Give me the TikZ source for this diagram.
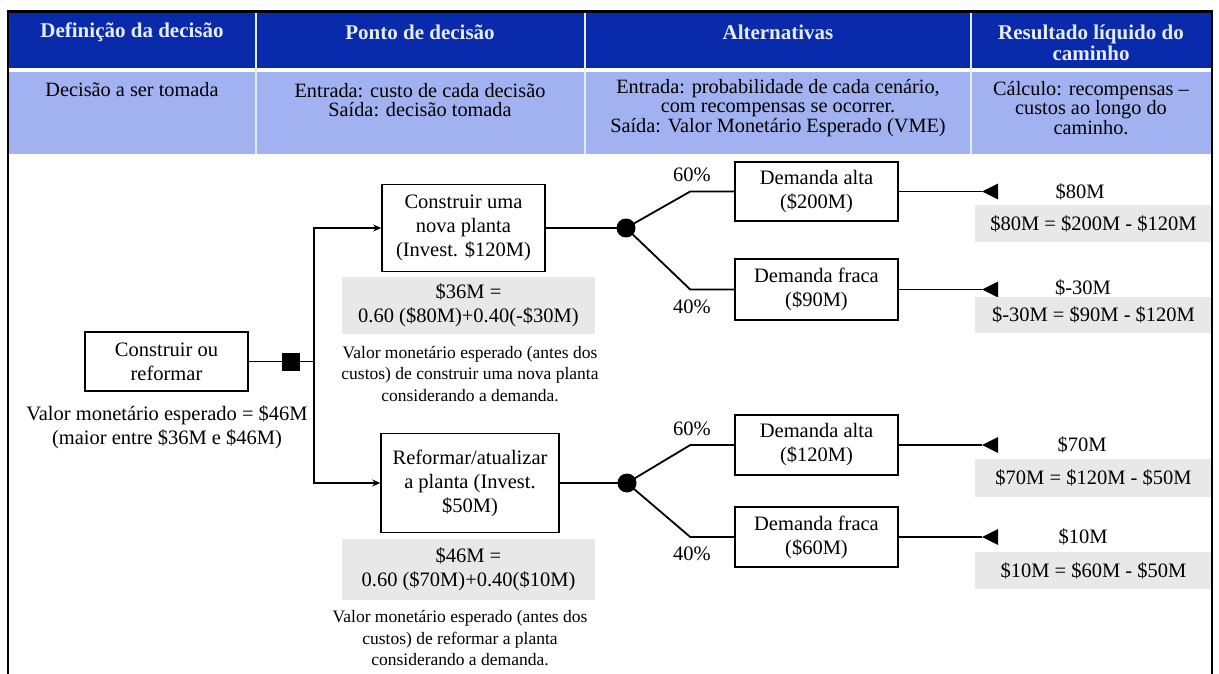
\documentclass[tikz,border=0pt]{standalone}
\usepackage{fontspec}
\setmainfont{Liberation Serif}
\usetikzlibrary{arrows.meta,calc}

\definecolor{hdrblue}{RGB}{10,42,172}
\definecolor{rowblue}{RGB}{162,177,240}
\definecolor{hdrtext}{RGB}{228,236,244}
\definecolor{calcgray}{RGB}{232,232,232}

\tikzset{
  hdr/.style={text=hdrtext, font=\fontsize{21}{21}\selectfont\bfseries, align=center, inner sep=0pt},
  rowtxt/.style={font=\fontsize{20.3}{19.5}\selectfont, align=center, inner sep=0pt},
  choicebox/.style={draw, line width=1.5pt, fill=white, align=center, inner sep=0pt, font=\fontsize{20.5}{24}\selectfont},
  calcbox/.style={fill=calcgray, align=center, inner sep=0pt, font=\fontsize{20.5}{24}\selectfont},
  notetext/.style={align=center, inner sep=0pt, font=\fontsize{17.5}{21.5}\selectfont},
  plaintext/.style={align=center, inner sep=0pt, font=\fontsize{20.5}{24.5}\selectfont},
  wire/.style={line width=1.8pt},
  feed/.style={line width=1.8pt, -{Stealth[length=8pt,width=7pt]}},
  decnode/.style={fill=black, minimum size=18pt, inner sep=0pt},
  chancenode/.style={circle, fill=black, minimum size=19pt, inner sep=0pt},
  divider/.style={draw=hdrtext, line width=1.5pt},
}

\begin{document}
\begin{tikzpicture}[x=1pt, y=-1pt]
\useasboundingbox (0,0) rectangle (1219,674);

% table heading bands
\fill[hdrblue] (9,13) rectangle (1211,68);
\fill[rowblue] (9,72) rectangle (1211,154);
\draw[divider] (256,13) -- (256,154);
\draw[divider] (585,13) -- (585,154);
\draw[divider] (971,13) -- (971,154);

\node[hdr] (h1) at (132,32) {Definição da decisão};
\node[hdr] (h2) at (420,32) {Ponto de decisão};
\node[hdr] (h3) at (778,32) {Alternativas};
\node[hdr] (h4) at (1091,42.5) {Resultado líquido do\\caminho};

\node[rowtxt] (d1) at (132,90) {Decisão a ser tomada};
\node[rowtxt] (d2) at (420,100) {Entrada: custo de cada decisão\\Saída: decisão tomada};
\node[rowtxt] (d3) at (778,108) {Entrada: probabilidade de cada cenário,\\com recompensas se ocorrer.\\Saída: Valor Monetário Esperado (VME)};
\node[rowtxt] (d4) at (1091,108) {Cálculo: recompensas --\\custos ao longo do\\caminho.};

% decision node and the two options
\node[choicebox, minimum width=163pt, minimum height=59pt] (root) at (166.5,361.5) {Construir ou\\reformar};
\node[plaintext] (rootval) at (167,427.5) {Valor monetário esperado = \$46M\\(maior entre \$36M e \$46M)};
\node[decnode] (dec) at (291,361.5) {};
\coordinate (split) at (314,361.5);

\node[choicebox, minimum width=163pt, minimum height=87pt] (build) at (463.5,228) {Construir uma\\nova planta\\(Invest. \$120M)};
\node[choicebox, minimum width=178pt, minimum height=99pt] (renov) at (470,483) {Reformar/atualizar\\a planta (Invest.\\\$50M)};

\draw[wire] (root) -- (dec) -- (split);
\draw[feed] (split) |- (build.west);
\draw[feed] (split) |- (renov.west);

\node[calcbox, minimum width=253pt, minimum height=57pt] (ev1) at (468.5,305.5) {\$36M =\\0.60 (\$80M)+0.40(-\$30M)};
\node[notetext] (cap1) at (470,374) {Valor monetário esperado (antes dos\\custos) de construir uma nova planta\\considerando a demanda.};
\node[calcbox, minimum width=253pt, minimum height=61pt] (ev2) at (468.5,569.5) {\$46M =\\0.60 (\$70M)+0.40(\$10M)};
\node[notetext] (cap2) at (460,638.5) {Valor monetário esperado (antes dos\\custos) de reformar a planta\\considerando a demanda.};

% chance nodes
\node[chancenode] (ch1) at (626,228) {};
\node[chancenode] (ch2) at (627,483) {};
\draw[wire] (build) -- (ch1.center);
\draw[wire] (renov) -- (ch2.center);

% scenarios
\node[choicebox, minimum width=163pt, minimum height=59pt] (hi1) at (816.5,191.5) {Demanda alta\\(\$200M)};
\node[choicebox, minimum width=163pt, minimum height=61pt] (lo1) at (816.5,289.5) {Demanda fraca\\(\$90M)};
\node[choicebox, minimum width=163pt, minimum height=60pt] (hi2) at (816.5,445) {Demanda alta\\(\$120M)};
\node[choicebox, minimum width=163pt, minimum height=60pt] (lo2) at (816.5,537) {Demanda fraca\\(\$60M)};

\draw[wire] (ch1.center) -- ($(hi1.west)+(-44,0)$) -- (hi1.west);
\draw[wire] (ch1.center) -- ($(lo1.west)+(-44,0)$) -- (lo1.west);
\draw[wire] (ch2.center) -- ($(hi2.west)+(-44,0)$) -- (hi2.west);
\draw[wire] (ch2.center) -- ($(lo2.west)+(-44,0)$) -- (lo2.west);

\node[plaintext] (p1) at (692,175) {60\%};
\node[plaintext] (p2) at (692,307) {40\%};
\node[plaintext] (p3) at (692,429) {60\%};
\node[plaintext] (p4) at (692,554) {40\%};

% path end points
\coordinate (e1) at (982,191.5);
\coordinate (e2) at (982,289.5);
\coordinate (e3) at (982,445);
\coordinate (e4) at (982,537);
\draw[wire] (hi1) -- (e1);
\draw[wire] (lo1) -- (e2);
\draw[wire] (hi2) -- (e3);
\draw[wire] (lo2) -- (e4);
\foreach \e in {e1,e2,e3,e4} {
  \fill (\e) -- ++(16,-8) -- ++(0,16) -- cycle;
}

% net results
\node[plaintext] (v1) at (1080,192) {\$80M};
\node[calcbox, minimum width=237pt, minimum height=37pt] (r1) at (1093.5,223.5) {\$80M = \$200M - \$120M};
\node[plaintext] (v2) at (1083,288) {\$-30M};
\node[calcbox, minimum width=237pt, minimum height=36pt] (r2) at (1093.5,315) {\$-30M = \$90M - \$120M};
\node[plaintext] (v3) at (1082,445) {\$70M};
\node[calcbox, minimum width=237pt, minimum height=38pt] (r3) at (1093.5,478) {\$70M = \$120M - \$50M};
\node[plaintext] (v4) at (1083,537) {\$10M};
\node[calcbox, minimum width=237pt, minimum height=37pt] (r4) at (1093.5,570.5) {\$10M = \$60M - \$50M};

% outer frame
\draw[line width=3pt] (7,11.5) -- (1213,11.5);
\draw[line width=2pt] (8,10) -- (8,674);
\draw[line width=2pt] (1212,10) -- (1212,674);
\end{tikzpicture}
\end{document}
